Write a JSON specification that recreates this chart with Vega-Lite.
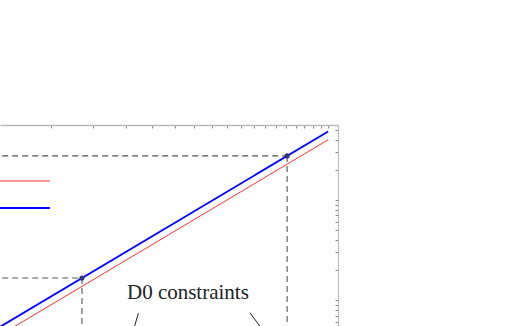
{
  "$schema": "https://vega.github.io/schema/vega-lite/v6.json",
  "autosize": {"type": "none"},
  "padding": {"left": 0, "top": 125, "right": 174, "bottom": 0},
  "width": 338,
  "height": 201,
  "background": "white",
  "config": {"view": {"stroke": null}},
  "datasets": {
    "lines": [
      {"series": "red", "part": "curve", "x": 2, "y": 4},
      {"series": "red", "part": "curve", "x": 20, "y": 400},
      {"series": "red", "part": "legend", "x": 2, "y": 155},
      {"series": "red", "part": "legend", "x": 2.97, "y": 155},
      {"series": "blue", "part": "curve", "x": 2, "y": 4.84},
      {"series": "blue", "part": "curve", "x": 20, "y": 484},
      {"series": "blue", "part": "legend", "x": 2, "y": 83.2},
      {"series": "blue", "part": "legend", "x": 2.97, "y": 83.2}
    ],
    "guides": [
      {"seg": "h1", "x": 2, "y": 276},
      {"seg": "h1", "x": 15.1, "y": 276},
      {"seg": "v1", "x": 15.1, "y": 276},
      {"seg": "v1", "x": 15.1, "y": 5},
      {"seg": "h2", "x": 2, "y": 16.6},
      {"seg": "h2", "x": 3.7, "y": 16.6},
      {"seg": "v2", "x": 3.7, "y": 16.6},
      {"seg": "v2", "x": 3.7, "y": 5}
    ],
    "points": [
      {"x": 15.1, "y": 276},
      {"x": 3.7, "y": 16.6}
    ],
    "arrows": [
      {"seg": "a1", "x": 5.45, "y": 7.41},
      {"seg": "a1", "x": 4.96, "y": 2.51},
      {"seg": "a2", "x": 11.7, "y": 7.46},
      {"seg": "a2", "x": 14.88, "y": 2.51}
    ],
    "labels": [
      {"label": "D0 constraints", "x": 7.65, "y": 10.2}
    ]
  },
  "encoding": {
    "x": {
      "field": "x", "type": "quantitative",
      "scale": {"type": "log", "domain": [2.11, 21.4], "nice": false, "zero": false},
      "axis": {
        "orient": "top", "title": null, "labels": false, "grid": false,
        "values": [3, 4, 5, 6, 7, 8, 9, 10, 11, 12, 13, 14, 15, 16, 17, 18, 19, 20],
        "domainColor": "#b8b8b8", "domainWidth": 1.5,
        "tickColor": "#888888", "tickWidth": 1, "tickSize": -3
      }
    },
    "y": {
      "field": "y", "type": "quantitative",
      "scale": {"type": "log", "domain": [5.5, 562], "nice": false, "zero": false},
      "axis": {
        "orient": "right", "title": null, "labels": false, "grid": false,
        "values": [6, 7, 8, 9, 10, 20, 30, 40, 50, 60, 70, 80, 90, 100, 200, 300, 400, 500],
        "domainColor": "#b8b8b8", "domainWidth": 1,
        "tickColor": "#888888", "tickWidth": 1, "tickSize": -3
      }
    }
  },
  "layer": [
    {
      "data": {"name": "guides"},
      "mark": {"type": "line", "clip": true, "stroke": "#555555", "strokeWidth": 1.1, "strokeDash": [6, 4]},
      "encoding": {"detail": {"field": "seg"}}
    },
    {
      "data": {"name": "lines"},
      "transform": [{"filter": "datum.series == 'red'"}],
      "mark": {"type": "line", "clip": true, "stroke": "#ff3030", "strokeWidth": 1},
      "encoding": {"detail": {"field": "part"}}
    },
    {
      "data": {"name": "lines"},
      "transform": [{"filter": "datum.series == 'blue'"}],
      "mark": {"type": "line", "clip": true, "stroke": "#0000ff", "strokeWidth": 1.8},
      "encoding": {"detail": {"field": "part"}}
    },
    {
      "data": {"name": "points"},
      "mark": {"type": "point", "filled": true, "size": 26, "color": "#34347a", "opacity": 1}
    },
    {
      "data": {"name": "arrows"},
      "mark": {"type": "line", "clip": true, "stroke": "#222222", "strokeWidth": 1},
      "encoding": {"detail": {"field": "seg"}}
    },
    {
      "data": {"name": "labels"},
      "mark": {"type": "text", "font": "Liberation Serif", "fontSize": 21, "fill": "#222222", "align": "center", "baseline": "alphabetic"},
      "encoding": {"text": {"field": "label"}}
    }
  ]
}
